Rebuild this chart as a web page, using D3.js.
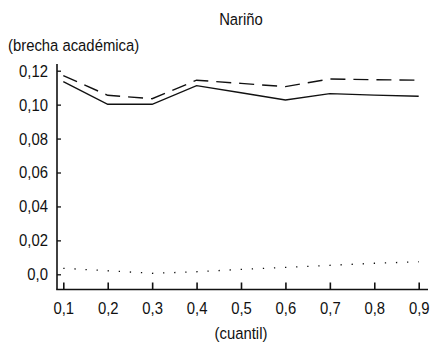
<!DOCTYPE html>
<html>
<head>
<meta charset="utf-8">
<script src="https://cdn.jsdelivr.net/npm/d3@7"></script>
<style>
  html, body { margin: 0; padding: 0; background: #fff; }
  svg { display: block; }
  text { font-family: "Liberation Sans", Arial, sans-serif; fill: #111; }
</style>
</head>
<body>
<svg id="chart" width="431" height="345"></svg>
<script>
// Quantiles on the horizontal axis
const quantiles = [0.1, 0.2, 0.3, 0.4, 0.5, 0.6, 0.7, 0.8, 0.9];
const quantileLabels = ["0,1", "0,2", "0,3", "0,4", "0,5", "0,6", "0,7", "0,8", "0,9"];

// Academic gap by quantile, three series
const gapSolid  = [0.1135, 0.1002, 0.1002, 0.1112, 0.1070, 0.1027, 0.1065, 0.1056, 0.1049];
const gapDashed = [0.1171, 0.1055, 0.1035, 0.1144, 0.1125, 0.1106, 0.1151, 0.1147, 0.1144];
const gapDotted = [0.0035, 0.0021, 0.0006, 0.0015, 0.0029, 0.0041, 0.0053, 0.0065, 0.0074];

// Vertical ticks
const yTicks = [0, 0.02, 0.04, 0.06, 0.08, 0.10, 0.12];
const yTickLabels = ["0,0", "0,02", "0,04", "0,06", "0,08", "0,10", "0,12"];

const title = "Nariño";
const yTitle = "(brecha académica)";
const xTitle = "(cuantil)";

const svg = d3.select("#chart");
const fontSize = 16.5;
const squeeze = 0.9; // horizontal condensing of all labels

const x = d3.scaleLinear().domain([0.1, 0.9]).range([63.3, 418.7]);
const y = d3.scaleLinear().domain([0, 0.12]).range([274.3, 70.7]);

const axisX0 = 57, axisY0 = 289.5, axisRight = 428, axisTop = 64;

// Place a condensed text label at (px, py)
function label(sel, px, py) {
  return sel
    .attr("transform", `translate(${px},${py}) scale(${squeeze},1)`)
    .style("font-size", fontSize + "px");
}

// Axis lines
svg.append("line")
  .attr("x1", axisX0).attr("x2", axisX0)
  .attr("y1", axisTop).attr("y2", axisY0)
  .attr("stroke", "#111").attr("stroke-width", 1.6);
svg.append("line")
  .attr("x1", axisX0 - 0.8).attr("x2", axisRight)
  .attr("y1", axisY0).attr("y2", axisY0)
  .attr("stroke", "#111").attr("stroke-width", 1.6);

// Y axis ticks (inward) and labels
const yAxis = d3.axisRight(y)
  .tickValues(yTicks)
  .tickSize(4)
  .tickFormat("");
const gy = svg.append("g").attr("transform", `translate(${axisX0},0)`).call(yAxis);
gy.select(".domain").remove();
gy.selectAll(".tick line").attr("stroke", "#111").attr("stroke-width", 1.3);

svg.append("g").selectAll("text")
  .data(yTicks)
  .join("text")
  .attr("dy", "0.36em")
  .attr("text-anchor", "end")
  .text((d, i) => yTickLabels[i])
  .each(function (d) { label(d3.select(this), 48, y(d)); });

// X axis ticks (inward) and labels
const xAxis = d3.axisTop(x)
  .tickValues(quantiles)
  .tickSize(7)
  .tickFormat("");
const gx = svg.append("g").attr("transform", `translate(0,${axisY0})`).call(xAxis);
gx.select(".domain").remove();
gx.selectAll(".tick line").attr("stroke", "#111").attr("stroke-width", 1.6);

svg.append("g").selectAll("text")
  .data(quantiles)
  .join("text")
  .attr("text-anchor", "middle")
  .text((d, i) => quantileLabels[i])
  .each(function (d) { label(d3.select(this), x(d) + 0.5, 314); });

// Titles
label(svg.append("text").attr("text-anchor", "middle").text(title), 241, 25);
label(svg.append("text").text(yTitle), 8, 51);
label(svg.append("text").attr("text-anchor", "middle").text(xTitle), 241, 339);

// Series lines
const line = d3.line()
  .x((d, i) => x(quantiles[i]))
  .y(d => y(d));

svg.append("path")
  .datum(gapDashed)
  .attr("d", line)
  .attr("fill", "none")
  .attr("stroke", "#111")
  .attr("stroke-width", 1.4)
  .attr("stroke-dasharray", "15,8");

svg.append("path")
  .datum(gapSolid)
  .attr("d", line)
  .attr("fill", "none")
  .attr("stroke", "#111")
  .attr("stroke-width", 1.4);

svg.append("path")
  .datum(gapDotted)
  .attr("d", line)
  .attr("fill", "none")
  .attr("stroke", "#111")
  .attr("stroke-width", 1.3)
  .attr("stroke-dasharray", "1.3,9.8");
</script>
</body>
</html>
